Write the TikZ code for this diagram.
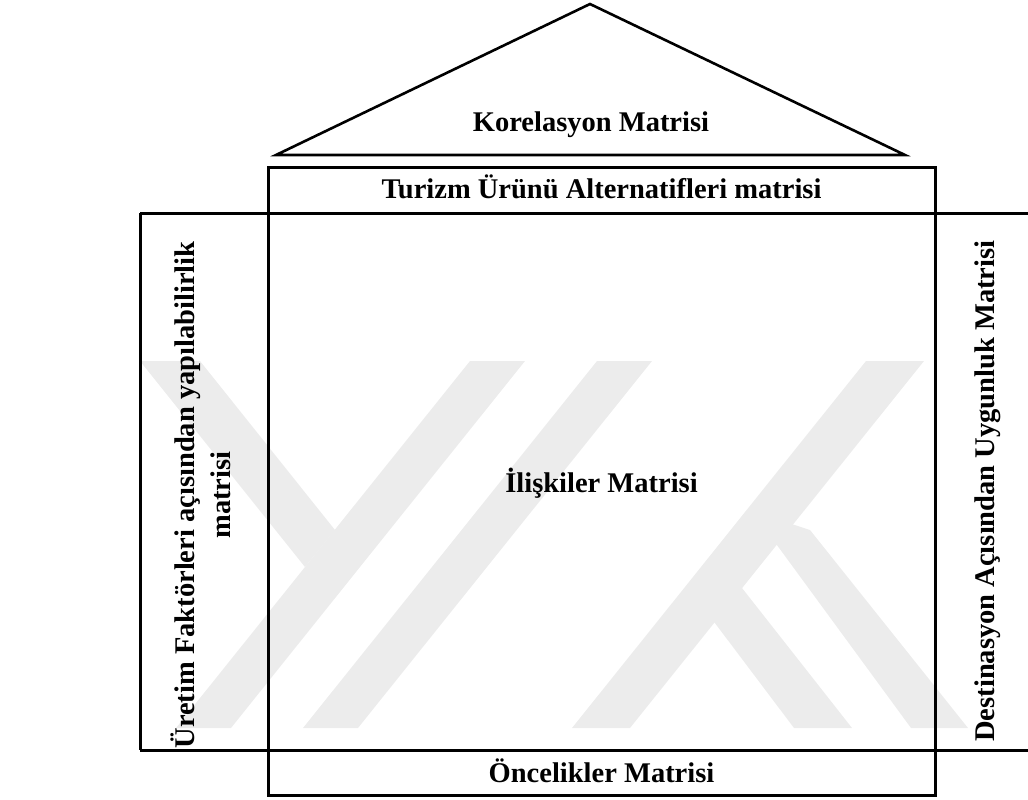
\documentclass[tikz,border=0pt]{standalone}
\usepackage{fontspec}
\setmainfont{Liberation Serif}
\definecolor{wm}{RGB}{236,236,236}
\begin{document}
\begin{tikzpicture}[x=1pt,y=-1pt,
  frame/.style={line width=3pt},
  roof/.style={line width=2.6pt},
  band/.style={fill=wm, draw=none},
  lbl/.style={font=\fontsize{28.5}{36}\selectfont\bfseries, inner sep=0pt}]
\useasboundingbox (0,0) rectangle (1028,800);

% faint emblem in the background
\fill[band] (140,361) -- (200,361) -- (335,530) -- (305,567) -- cycle;
\fill[band] (470,361) -- (525,361) -- (231,728) -- (176,728) -- cycle;
\fill[band] (597,361) -- (652,361) -- (358,728) -- (303,728) -- cycle;
\fill[band] (866,361) -- (924,361) -- (630,728) -- (572,728) -- cycle;
\fill[band] (752,511) -- (810,530) -- (968,728) -- (911,728) -- cycle;
\fill[band] (690,590) -- (720,560) -- (852,728) -- (794,728) -- cycle;

% roof
\coordinate (apex) at (590,4);
\coordinate (roofL) at (276,155);
\coordinate (roofR) at (905,155);
\draw[roof] (roofL) -- (apex) -- (roofR) -- cycle;

% house body
\coordinate (bodyTL) at (268,167);
\coordinate (bodyBR) at (935,795);
\draw[frame] (bodyTL) rectangle (bodyBR);
\draw[frame] (140,213) -- (1028,213);
\draw[frame] (140,750) -- (1028,750);
\draw[frame] (140,213) -- (140,750);

% labels
\node[lbl, anchor=base] (kor) at (591,131) {Korelasyon Matrisi};
\node[lbl, anchor=base] (tur) at (601.5,198) {Turizm Ürünü Alternatifleri matrisi};
\node[lbl, anchor=base] (ili) at (601.5,492) {İlişkiler Matrisi};
\node[lbl, anchor=base] (onc) at (601.5,782) {Öncelikler Matrisi};
\node[lbl, rotate=90, align=center] (uret) at (201,495)
  {Üretim Faktörleri açısından yapılabilirlik\\matrisi};
\node[lbl, rotate=90] (dest) at (988,491) {Destinasyon Açısından Uygunluk Matrisi};
\end{tikzpicture}
\end{document}
